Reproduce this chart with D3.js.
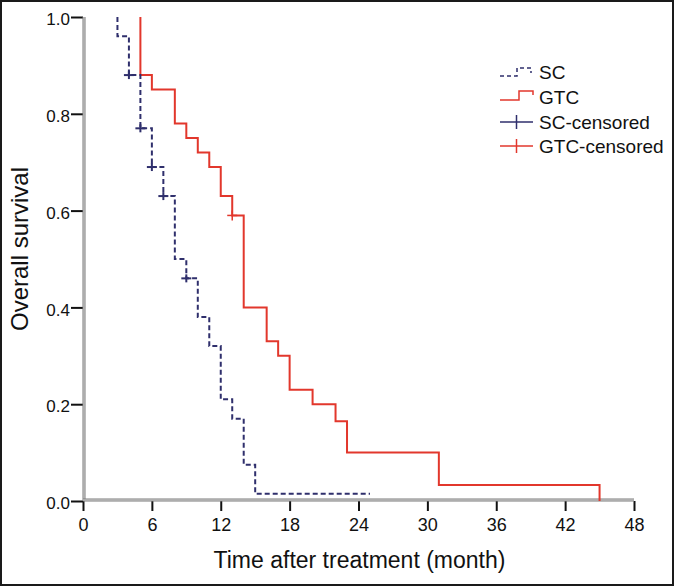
<!DOCTYPE html>
<html>
<head>
<meta charset="utf-8">
<script src="https://cdn.jsdelivr.net/npm/d3@7"></script>
<style>
  body { margin: 0; background: #fff; }
  svg { display: block; font-family: "Liberation Sans", Arial, sans-serif; }
  .tick text { fill: #111; }
  .tick line { stroke: #111; stroke-width: 2; }
</style>
</head>
<body>
<div id="chart"></div>
<script>
// Kaplan-Meier steps (time in months, survival)
var scTimes = [3, 3, 4, 5, 6, 7, 8, 9, 10, 11, 12, 13, 14, 15, 25];
var scSurv = [1.0, 0.96, 0.88, 0.77, 0.69, 0.63, 0.50, 0.46, 0.38, 0.32, 0.21, 0.17, 0.075, 0.015, 0.015];
var scCensTimes = [4, 5, 6, 7, 9];
var scCensSurv = [0.88, 0.77, 0.69, 0.63, 0.46];

var gtcTimes = [5, 5, 6, 8, 9, 10, 11, 12, 13, 14, 16, 17, 18, 20, 22, 23, 31, 45];
var gtcSurv = [1.0, 0.88, 0.85, 0.78, 0.75, 0.72, 0.69, 0.63, 0.59, 0.40, 0.33, 0.30, 0.23, 0.20, 0.165, 0.10, 0.033, 0];
var gtcCensTimes = [13];
var gtcCensSurv = [0.59];

var xTicks = [0, 6, 12, 18, 24, 30, 36, 42, 48];
var yTicks = [0, 0.2, 0.4, 0.6, 0.8, 1.0];
var legendLabels = ["SC", "GTC", "SC-censored", "GTC-censored"];

var svgWidth = 674;
var svgHeight = 586;
var navy = "#2f2f6c";
var red = "#e2372c";

var svg = d3.select("#chart")
  .append("svg")
  .attr("width", svgWidth)
  .attr("height", svgHeight);

// outer frame
svg.append("rect")
  .attr("x", 1).attr("y", 1)
  .attr("width", svgWidth - 2).attr("height", svgHeight - 2)
  .attr("fill", "#fff")
  .attr("stroke", "#1a1a1a")
  .attr("stroke-width", 2);

var xScale = d3.scaleLinear().domain([0, 48]).range([83, 634]);
var yScale = d3.scaleLinear().domain([0, 1]).range([501, 17]);

// axes (ticks + labels)
var bottomAxis = d3.axisBottom(xScale).tickValues(xTicks).tickSize(10).tickSizeOuter(0).tickPadding(7);
var leftAxis = d3.axisLeft(yScale).tickValues(yTicks).tickSize(12).tickSizeOuter(0).tickPadding(1)
  .tickFormat(d3.format(".1f"));

var gx = svg.append("g")
  .attr("transform", `translate(0, ${yScale(0)})`)
  .call(bottomAxis);
gx.select(".domain").remove();
gx.selectAll(".tick text").attr("font-size", 18);

var gy = svg.append("g")
  .attr("transform", `translate(${xScale(0)}, 0)`)
  .call(leftAxis);
gy.select(".domain").remove();
gy.selectAll(".tick text").attr("font-size", 17).attr("dy", "0.45em");

// double-line axis frame
function doubleLine(x1, y1, x2, y2) {
  svg.append("line").attr("x1", x1).attr("y1", y1).attr("x2", x2).attr("y2", y2)
    .attr("stroke", "#7a7a7a").attr("stroke-width", 3);
  svg.append("line").attr("x1", x1).attr("y1", y1).attr("x2", x2).attr("y2", y2)
    .attr("stroke", "#e0e0e0").attr("stroke-width", 1);
}
doubleLine(xScale(0) + 1, yScale(1), xScale(0) + 1, yScale(0));
doubleLine(xScale(0), yScale(0) - 1, xScale(48), yScale(0) - 1);

// step curves
var step = d3.line()
  .x(d => xScale(d[0]))
  .y(d => yScale(d[1]))
  .curve(d3.curveStepAfter);

var gtcPts = gtcTimes.map((t, i) => [t, gtcSurv[i]]);
var scPts = scTimes.map((t, i) => [t, scSurv[i]]);

svg.append("path")
  .attr("d", step(gtcPts))
  .attr("fill", "none")
  .attr("stroke", red)
  .attr("stroke-width", 2);

svg.append("path")
  .attr("d", step(scPts))
  .attr("fill", "none")
  .attr("stroke", navy)
  .attr("stroke-width", 2)
  .attr("stroke-dasharray", "5,3");

// censor marks
function cross(g, cx, cy, color, hw, hh, sw) {
  g.append("line").attr("x1", cx - hw).attr("x2", cx + hw).attr("y1", cy).attr("y2", cy)
    .attr("stroke", color).attr("stroke-width", sw);
  g.append("line").attr("x1", cx).attr("x2", cx).attr("y1", cy - hh).attr("y2", cy + hh)
    .attr("stroke", color).attr("stroke-width", sw);
}
var marks = svg.append("g");
scCensTimes.forEach((t, i) => cross(marks, xScale(t), yScale(scCensSurv[i]), navy, 5, 4, 2));
gtcCensTimes.forEach((t, i) => cross(marks, xScale(t), yScale(gtcCensSurv[i]), red, 5, 5, 1.5));

// axis titles
svg.append("text")
  .attr("x", (xScale(0) + xScale(48)) / 2 + 1)
  .attr("y", 568)
  .attr("text-anchor", "middle")
  .attr("font-size", 23)
  .attr("fill", "#111")
  .text("Time after treatment (month)");

svg.append("text")
  .attr("transform", "translate(28, 249) rotate(-90)")
  .attr("text-anchor", "middle")
  .attr("font-size", 24)
  .attr("fill", "#111")
  .text("Overall survival");

// legend
var legend = svg.append("g");
var legY = [72, 97, 122, 146];
var lx0 = 500, lx1 = 533;

legend.append("path")
  .attr("d", `M${lx0},${legY[0] + 4}H${lx0 + 17}V${legY[0] - 4}H${lx0 + 31}V${legY[0] + 1}`)
  .attr("fill", "none").attr("stroke", navy).attr("stroke-width", 1.5).attr("stroke-dasharray", "4,3");
legend.append("path")
  .attr("d", `M${lx0},${legY[1] + 3}H${lx0 + 19}V${legY[1] - 6}H${lx1}V${legY[1] - 2}`)
  .attr("fill", "none").attr("stroke", red).attr("stroke-width", 1.5);
cross(legend, (lx0 + lx1) / 2, legY[2], navy, (lx1 - lx0) / 2, 7, 1.5);
cross(legend, (lx0 + lx1) / 2, legY[3], red, (lx1 - lx0) / 2, 7, 1.5);

legend.selectAll("text.leg")
  .data(legendLabels)
  .enter()
  .append("text")
  .attr("class", "leg")
  .attr("x", 539)
  .attr("y", (d, i) => legY[i] + 7)
  .attr("font-size", 19)
  .attr("fill", "#111")
  .text(d => d);
</script>
</body>
</html>
